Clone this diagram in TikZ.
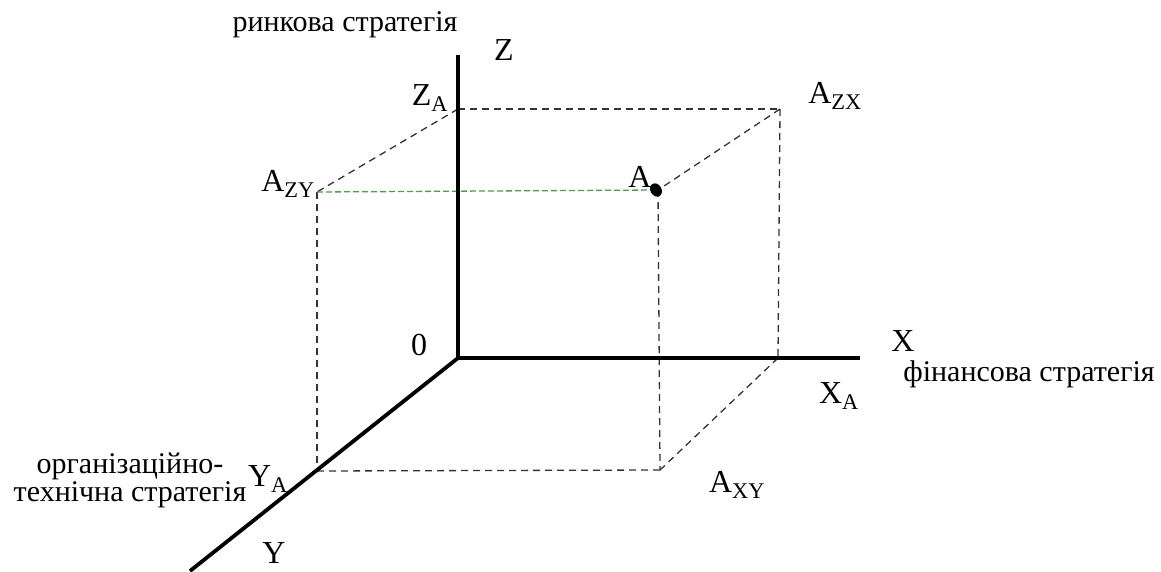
\documentclass[tikz,border=0pt]{standalone}
\usepackage{fontspec}
\setmainfont{Liberation Serif}
\begin{document}
\begin{tikzpicture}[x=1pt,y=-1pt,
  axis/.style={line width=3.8pt,black},
  guide/.style={line width=1.3pt,black!80,dash pattern=on 7pt off 5pt},
  greenguide/.style={line width=1.3pt,green!45!black!70,dash pattern=on 6pt off 3pt},
  lbl/.style={inner sep=0pt,font=\fontsize{32}{34}\selectfont},
  captext/.style={inner sep=0pt,font=\fontsize{30}{28}\selectfont,align=center}]
\useasboundingbox (0,0) rectangle (1161,571);
% axis points
\coordinate (O) at (458,358);
\coordinate (Ztop) at (458,55);
\coordinate (Xend) at (860,358);
\coordinate (Yend) at (190,571);
% box corners
\coordinate (ZA) at (458,109);
\coordinate (AZX) at (780,109);
\coordinate (AZY) at (317,192);
\coordinate (A) at (658,190);
\coordinate (XA) at (778,358);
\coordinate (YA) at (317,471);
\coordinate (AXY) at (660,470);
% dashed box
\draw[guide] (ZA) -- (AZX);
\draw[guide] (ZA) -- (AZY);
\draw[guide] (AZX) -- (A);
\draw[guide] (AZY) -- (YA);
\draw[guide] (A) -- (AXY);
\draw[guide] (AZX) -- (XA);
\draw[guide] (XA) -- (AXY);
\draw[guide] (YA) -- (AXY);
\draw[greenguide] (AZY) -- (A);
% axes
\draw[axis] (Ztop) -- (O) -- (Xend);
\draw[axis] (O) -- (Yend);
\fill[rotate around={30:(656,190)}] (656,190) ellipse (5.5pt and 7pt);
% labels
\node[lbl] (lz) at (504,50) {Z};
\node[lbl] (lx) at (903,341) {X};
\node[lbl] (ly) at (274,553) {Y};
\node[lbl] (l0) at (419,345) {0};
\node[lbl] (lza) at (430,98) {Z\textsubscript{A}};
\node[lbl] (lazx) at (835,96) {A\textsubscript{ZX}};
\node[lbl] (lazy) at (288,184) {A\textsubscript{ZY}};
\node[lbl] (la) at (640,177) {A};
\node[lbl] (lxa) at (839,396) {X\textsubscript{A}};
\node[lbl] (laxy) at (737,485) {A\textsubscript{XY}};
\node[lbl] (lya) at (268,479) {Y\textsubscript{A}};
\node[captext] (market) at (345,25) {ринкова стратегія};
\node[captext] (fin) at (1029,374) {фінансова стратегія};
\node[captext] (org) at (130,480) {організаційно-\\технічна стратегія};
\end{tikzpicture}
\end{document}
